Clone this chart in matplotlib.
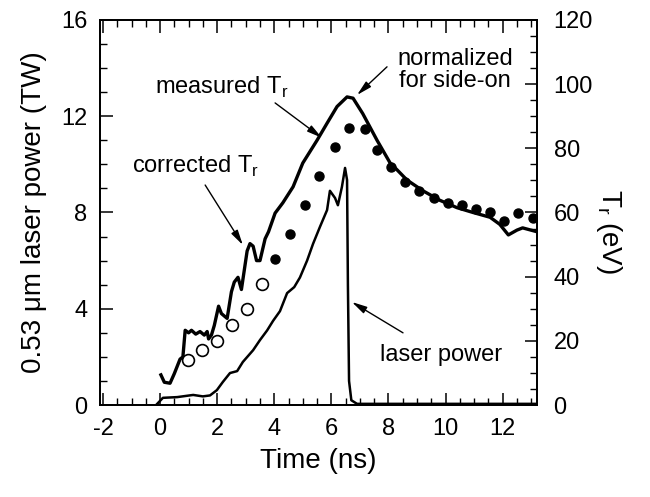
import numpy as np
import matplotlib
matplotlib.use('Agg')
import matplotlib.pyplot as plt
from matplotlib.ticker import MultipleLocator

plt.rcParams['font.family'] = ['Liberation Sans', 'DejaVu Sans']
plt.rcParams['mathtext.fontset'] = 'custom'
plt.rcParams['mathtext.rm'] = 'Liberation Sans'
plt.rcParams['axes.unicode_minus'] = False

# normalized (side-on) radiation temperature, eV
t_norm = [0.03, 0.15, 0.35, 0.5, 0.7, 0.8, 0.88, 1.0, 1.1, 1.25, 1.4, 1.55, 1.65, 1.7,
          1.8, 1.9, 2.05, 2.15, 2.35, 2.5, 2.6, 2.73, 2.85, 2.95, 3.05, 3.15, 3.26, 3.38,
          3.5, 3.68, 3.8, 4.03, 4.3, 4.66, 5.0, 5.5, 5.85, 6.2, 6.55, 6.76, 7.1, 7.6,
          8.06, 8.3, 8.65, 9.2, 9.8, 10.4, 10.96, 11.56, 11.9, 12.2, 12.5, 12.7, 13.2]
tr_norm = [9.4, 7.1, 6.8, 9.8, 14.3, 15.0, 23.3, 22.5, 23.3, 22.1, 22.9, 21.8, 22.9, 20.6,
           21.8, 24.8, 30.8, 28.5, 27.0, 35.3, 38.3, 39.8, 36.0, 42.0, 48.0, 50.3, 49.5, 45.0,
           45.0, 51.8, 54.0, 59.8, 63.0, 68.0, 75.4, 82.5, 87.8, 93.0, 96.0, 95.6, 90.8, 82.5,
           75.4, 73.3, 70.1, 66.8, 63.8, 61.5, 60.0, 58.5, 56.3, 53.0, 54.5, 55.2, 54.0]

# measured Tr (filled dots), eV
t_meas = [4.03, 4.55, 5.08, 5.57, 6.13, 6.62, 7.18, 7.6, 8.1, 8.58, 9.07, 9.6, 10.1,
          10.58, 11.07, 11.56, 12.05, 12.54, 13.06]
tr_meas = [45.5, 53.3, 62.3, 71.3, 80.3, 86.3, 86.0, 79.5, 74.3, 69.5, 66.8, 64.5, 63.0,
           62.3, 61.1, 60.0, 57.4, 59.9, 58.3]

# corrected Tr (open circles), eV
t_corr = [0.98, 1.47, 1.99, 2.52, 3.05, 3.57]
tr_corr = [14.0, 17.1, 20.0, 24.9, 29.9, 37.7]

# 0.53 um laser power, TW
t_las = [-0.1, 0.1, 0.6, 1.16, 1.5, 1.75, 1.99, 2.2, 2.45, 2.7, 2.9, 3.26, 3.5, 3.75,
         3.96, 4.2, 4.45, 4.7, 4.9, 5.15, 5.36, 5.6, 5.85, 5.95, 6.13, 6.23, 6.37, 6.48,
         6.55, 6.58, 6.62, 6.7, 6.9, 13.2]
p_las = [0.05, 0.3, 0.33, 0.42, 0.36, 0.4, 0.62, 0.96, 1.33, 1.41, 1.79, 2.28, 2.7, 3.1,
         3.5, 3.9, 4.65, 4.9, 5.3, 6.0, 6.7, 7.4, 8.1, 8.9, 8.6, 8.3, 9.06, 9.85,
         9.35, 5.0, 1.0, 0.2, 0.05, 0.05]

fig = plt.figure(figsize=(6.5, 4.97), dpi=100)
ax = fig.add_axes([0.154, 0.185, 0.672, 0.775])
ax2 = ax.twinx()

ax.plot(t_las, p_las, 'k-', lw=1.8)
ax2.plot(t_norm, tr_norm, 'k-', lw=2.4)
ax2.plot(t_meas, tr_meas, 'ko', ms=6.5)
ax2.plot(t_corr, tr_corr, 'o', mfc='white', mec='k', mew=1.2, ms=8.5)

ax.set_xlim(-2.1, 13.2)
ax.set_ylim(0, 16)
ax2.set_ylim(0, 120)

ax.xaxis.set_major_locator(MultipleLocator(2))
ax.xaxis.set_minor_locator(MultipleLocator(0.5))
ax.yaxis.set_major_locator(MultipleLocator(4))
ax.yaxis.set_minor_locator(MultipleLocator(1))
ax2.yaxis.set_major_locator(MultipleLocator(20))
ax2.yaxis.set_minor_locator(MultipleLocator(5))

ax.tick_params(axis='x', which='both', direction='in', top=True, bottom=True, labelsize=17, pad=9)
ax.tick_params(axis='y', which='both', direction='in', left=True, right=False, labelsize=17, pad=9)
ax2.tick_params(axis='y', which='both', direction='in', labelsize=17, pad=12)
for a in (ax, ax2):
    a.tick_params(which='major', length=9, width=1.1)
    a.tick_params(which='minor', length=5, width=1.0)
    for s in a.spines.values():
        s.set_linewidth(1.3)

ax.set_xlabel('Time (ns)', fontsize=20, labelpad=6)
ax.set_ylabel('0.53 \u03bcm laser power (TW)', fontsize=20, labelpad=10)
ax2.set_ylabel('T$_\\mathregular{r}$ (eV)', fontsize=20, rotation=-90, labelpad=28)
ax2.yaxis.set_label_coords(1.2, 0.45)

arw = dict(arrowstyle='-|>,head_length=0.9,head_width=0.22', color='k', lw=1.0, shrinkA=0, shrinkB=0)
fs = 17
ax.text(2.17, 13.2, 'measured T$_\\mathregular{r}$', fontsize=fs, ha='center', va='center')
ax.annotate('', xy=(5.67, 11.1), xytext=(4.03, 12.55), arrowprops=arw)
ax.text(1.23, 9.9, 'corrected T$_\\mathregular{r}$', fontsize=fs, ha='center', va='center')
ax.annotate('', xy=(2.9, 6.65), xytext=(1.58, 9.14), arrowprops=arw)
ax.text(10.33, 13.92, 'normalized\nfor side-on', fontsize=fs, ha='center', va='center', linespacing=0.95)
ax.annotate('', xy=(6.9, 12.88), xytext=(7.95, 14.05), arrowprops=arw)
ax.text(9.85, 2.1, 'laser power', fontsize=fs, ha='center', va='center')
ax.annotate('', xy=(6.72, 4.28), xytext=(8.51, 3.0), arrowprops=arw)

fig.savefig('out.png', dpi=100)
